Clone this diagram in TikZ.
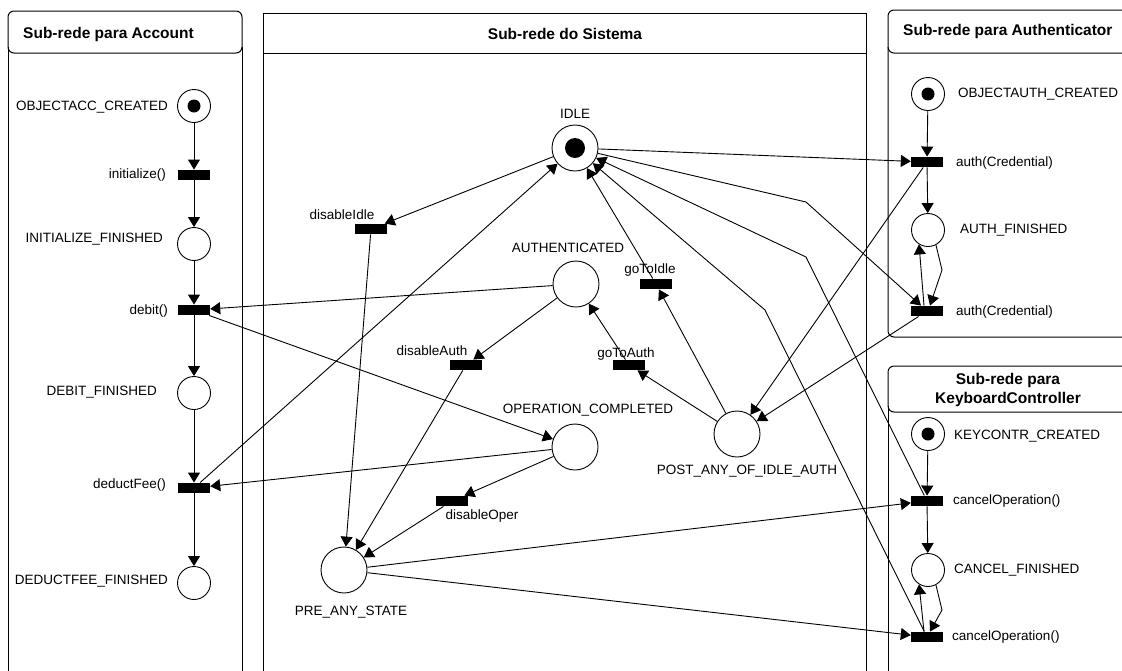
\documentclass[tikz,border=0pt]{standalone}
\usepackage{fontspec}
\setmainfont{Liberation Sans}
\usetikzlibrary{arrows.meta}
\begin{document}
\begin{tikzpicture}[x=1pt,y=-1pt,
  lbl/.style={font=\fontsize{13.5}{15}\selectfont, inner sep=0pt, text height=9.6pt, text depth=0pt},
  hdr/.style={font=\fontsize{15.5}{18.6}\selectfont\bfseries, inner sep=0pt, align=center},
  place/.style={circle, draw, line width=0.9pt, minimum size=33pt, inner sep=0pt},
  bigplace/.style={circle, draw, line width=0.9pt, minimum size=46pt, inner sep=0pt},
  marked/.style={place, path picture={\fill (path picture bounding box.center) circle (6.5pt);}},
  bigmarked/.style={bigplace, path picture={\fill (path picture bounding box.center) circle (10pt);}},
  trans/.style={rectangle, fill=black, minimum width=32pt, minimum height=10.5pt, inner sep=0pt},
  flow/.style={line width=0.9pt, -{Triangle[length=10pt,width=12pt]}},
  frame/.style={line width=1pt},
]
\useasboundingbox[fill=white] (0,0) rectangle (1122,670);

% ---- panel frames ----
\draw[frame, rounded corners=6pt] (8,11) rectangle (242,53);
\draw[frame] (8,47) -- (8,680) (242,47) -- (242,680);
\node[hdr, anchor=west] (hacc) at (23,34) {Sub-rede para Account};

\draw[frame] (263,13) rectangle (866,53);
\draw[frame] (263,53) -- (263,680) (866,53) -- (866,680);
\node[hdr] (hsys) at (565,34) {Sub-rede do Sistema};

\draw[frame, rounded corners=6pt] (888,10) rectangle (1140,53);
\draw[frame, rounded corners=6pt] (888,47) -- (888,337) -- (1140,337);
\node[hdr, anchor=west] (hauth) at (903,31) {Sub-rede para Authenticator};

\draw[frame, rounded corners=6pt] (888,366) rectangle (1140,412);
\draw[frame] (888,406) -- (888,680);
\node[hdr] (hkey) at (1008,390) {Sub-rede para\\KeyboardController};

% ---- Account sub-net ----
\node[marked] (oac) at (194,106) {};
\node[trans] (tinit) at (194,175) {};
\node[place] (initfin) at (194,244) {};
\node[trans] (tdebit) at (194,310) {};
\node[place] (debitfin) at (194,393) {};
\node[trans] (tdeduct) at (194,488) {};
\node[place] (deductfin) at (194,583) {};

\node[lbl, anchor=east] (loac) at (168,106) {OBJECTACC\_CREATED};
\node[lbl, anchor=east] (ltinit) at (166,174) {initialize()};
\node[lbl, anchor=east] (linitfin) at (163,238) {INITIALIZE\_FINISHED};
\node[lbl, anchor=east] (ltdebit) at (168,310) {debit()};
\node[lbl, anchor=east] (ldebitfin) at (157,391) {DEBIT\_FINISHED};
\node[lbl, anchor=east] (ltdeduct) at (166,484) {deductFee()};
\node[lbl, anchor=east] (ldeductfin) at (168,580) {DEDUCTFEE\_FINISHED};

% ---- System sub-net ----
\node[bigmarked] (idle) at (575,148) {};
\node[trans] (tdisidle) at (371,229) {};
\node[bigplace] (authd) at (576,284) {};
\node[trans] (tgoidle) at (656,284) {};
\node[trans] (tgoauth) at (629,365) {};
\node[trans] (tdisauth) at (466,365) {};
\node[bigplace] (opc) at (575,447) {};
\node[trans] (tdisoper) at (452,501) {};
\node[bigplace] (pre) at (344,570) {};
\node[bigplace] (post) at (737,434) {};

\node[lbl] (lidle) at (575,114) {IDLE};
\node[lbl] (ltdisidle) at (342,215) {disableIdle};
\node[lbl] (lauthd) at (568,248) {AUTHENTICATED};
\node[lbl] (ltgoidle) at (650,269) {goToIdle};
\node[lbl] (ltgoauth) at (626,353) {goToAuth};
\node[lbl] (ltdisauth) at (432,351) {disableAuth};
\node[lbl] (lopc) at (588,409) {OPERATION\_COMPLETED};
\node[lbl] (ltdisoper) at (482,515) {disableOper};
\node[lbl] (lpre) at (351,611) {PRE\_ANY\_STATE};
\node[lbl] (lpost) at (747,470) {POST\_ANY\_OF\_IDLE\_AUTH};

% ---- Authenticator sub-net ----
\node[marked] (oauth) at (928,94) {};
\node[trans] (auth1) at (927,162) {};
\node[place] (authfin) at (928,230) {};
\node[trans] (auth2) at (927,311) {};

\node[lbl, anchor=west] (loauth) at (958,93) {OBJECTAUTH\_CREATED};
\node[lbl, anchor=west] (lauth1) at (956,162) {auth(Credential)};
\node[lbl, anchor=west] (lauthfin) at (960,229) {AUTH\_FINISHED};
\node[lbl, anchor=west] (lauth2) at (956,311) {auth(Credential)};

% ---- KeyboardController sub-net ----
\node[marked] (kc) at (928,434) {};
\node[trans] (cancel1) at (927,501) {};
\node[place] (cfin) at (928,570) {};
\node[trans] (cancel2) at (927,637) {};

\node[lbl, anchor=west] (lkc) at (954,435) {KEYCONTR\_CREATED};
\node[lbl, anchor=west] (lcancel1) at (953,500) {cancelOperation()};
\node[lbl, anchor=west] (lcfin) at (954,569) {CANCEL\_FINISHED};
\node[lbl, anchor=west] (lcancel2) at (952,636) {cancelOperation()};

% bend points of the long arcs
\coordinate (bidle) at (806,202);
\coordinate (bcan1) at (806,257);
\coordinate (bcan2) at (765,310);
\coordinate (bauth) at (942,270);
\coordinate (bcan) at (942,610);

% ---- arcs: Account ----
\draw[flow] (oac) -- (tinit);
\draw[flow] (tinit) -- (initfin);
\draw[flow] (initfin) -- (tdebit);
\draw[flow] (tdebit) -- (debitfin);
\draw[flow] (debitfin) -- (tdeduct);
\draw[flow] (tdeduct) -- (deductfin);
\draw[flow] (authd) -- (tdebit);
\draw[flow] (tdebit) -- (opc);
\draw[flow] (opc) -- (tdeduct);
\draw[flow] (tdeduct) -- (idle);

% ---- arcs: System ----
\draw[flow] (idle) -- (tdisidle);
\draw[flow] (tdisidle) -- (pre);
\draw[flow] (authd) -- (tdisauth);
\draw[flow] (tdisauth) -- (pre);
\draw[flow] (opc) -- (tdisoper);
\draw[flow] (tdisoper) -- (pre);
\draw[flow] (post) -- (tgoauth);
\draw[flow] (tgoauth) -- (authd);
\draw[flow] (post) -- (tgoidle);
\draw[flow] (tgoidle) -- (idle);
\draw[flow] (pre) -- (cancel1);
\draw[flow] (pre) -- (cancel2);

% ---- arcs: Authenticator ----
\draw[flow] (idle) -- (auth1);
\draw[flow] (idle) -- (bidle) -- (auth2);
\draw[flow] (auth1) -- (post);
\draw[flow] (auth2) -- (post);
\draw[flow] (oauth) -- (auth1);
\draw[flow] (auth1) -- (authfin);
\draw[flow] ([xshift=-3pt]auth2.north) -- (authfin.-122);
\draw[flow] (authfin.-62) -- (bauth) -- ([xshift=3pt]auth2.north);

% ---- arcs: KeyboardController ----
\draw[flow] (cancel1) -- (bcan1) -- (idle);
\draw[flow] (cancel2) -- (bcan2) -- (idle);
\draw[flow] (kc) -- (cancel1);
\draw[flow] (cancel1) -- (cfin);
\draw[flow] ([xshift=-3pt]cancel2.north) -- (cfin.-122);
\draw[flow] (cfin.-62) -- (bcan) -- ([xshift=3pt]cancel2.north);
\end{tikzpicture}
\end{document}
